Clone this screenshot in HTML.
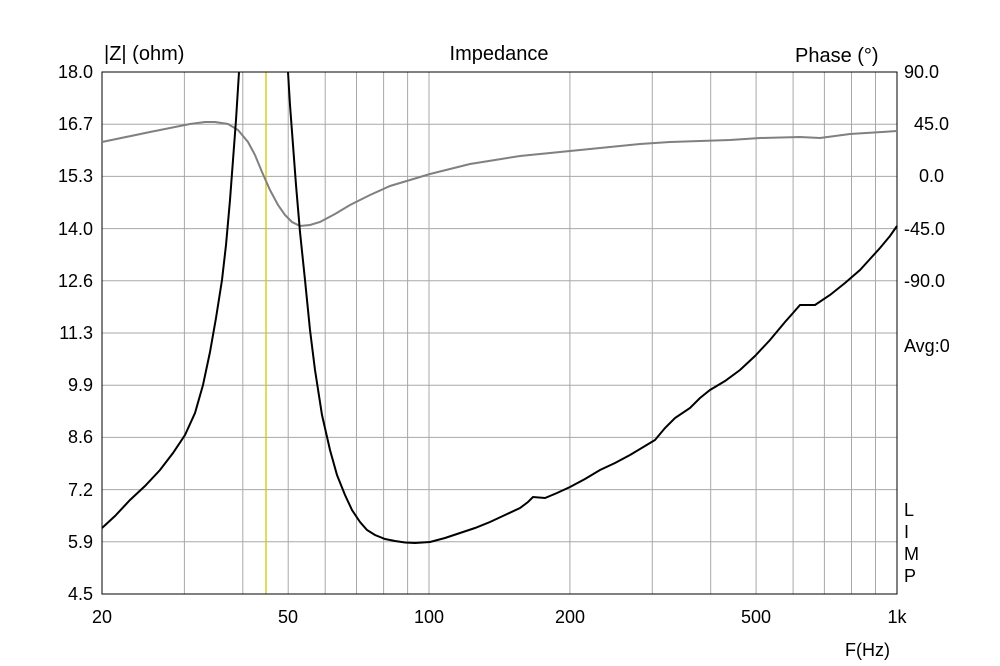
<!DOCTYPE html>
<html><head><meta charset="utf-8"><style>
body{margin:0;background:#fff;}
svg{display:block;font-family:"Liberation Sans",sans-serif;}
</style></head><body>
<svg width="1000" height="666" viewBox="0 0 1000 666" xmlns="http://www.w3.org/2000/svg">
<rect width="1000" height="666" fill="#fff"/>
<g stroke="#a8a8a8" stroke-width="1">
<line x1="102" y1="124.2" x2="897" y2="124.2"/><line x1="102" y1="176.4" x2="897" y2="176.4"/>
<line x1="102" y1="228.6" x2="897" y2="228.6"/><line x1="102" y1="280.8" x2="897" y2="280.8"/>
<line x1="102" y1="333" x2="897" y2="333"/><line x1="102" y1="385.2" x2="897" y2="385.2"/>
<line x1="102" y1="437.4" x2="897" y2="437.4"/><line x1="102" y1="489.6" x2="897" y2="489.6"/>
<line x1="102" y1="541.8" x2="897" y2="541.8"/>
<line x1="184.4" y1="72" x2="184.4" y2="594"/><line x1="242.8" y1="72" x2="242.8" y2="594"/>
<line x1="288.2" y1="72" x2="288.2" y2="594"/><line x1="325.2" y1="72" x2="325.2" y2="594"/>
<line x1="356.5" y1="72" x2="356.5" y2="594"/><line x1="383.6" y1="72" x2="383.6" y2="594"/>
<line x1="407.6" y1="72" x2="407.6" y2="594"/><line x1="429" y1="72" x2="429" y2="594"/>
<line x1="569.9" y1="72" x2="569.9" y2="594"/><line x1="652.3" y1="72" x2="652.3" y2="594"/>
<line x1="710.7" y1="72" x2="710.7" y2="594"/><line x1="756.1" y1="72" x2="756.1" y2="594"/>
<line x1="793.1" y1="72" x2="793.1" y2="594"/><line x1="824.4" y1="72" x2="824.4" y2="594"/>
<line x1="851.5" y1="72" x2="851.5" y2="594"/><line x1="875.5" y1="72" x2="875.5" y2="594"/>
</g>
<line x1="266" y1="72" x2="266" y2="594" stroke="#d4c800" stroke-width="1.3"/>
<rect x="102" y="72" width="795" height="522" fill="none" stroke="#000" stroke-width="1"/>
<polyline fill="none" stroke="#808080" stroke-width="2" points="102,142 150,132 190,124 205,122 215,122 228,124 238,130 248,142 255,155 262,172 270,190 278,205 285,215 292,222 300,226 310,225 320,222 335,214 350,205 370,195 390,186 410,180 430,174 450,169 470,164 495,160 520,156 550,153 580,150 610,147 640,144 670,142 700,141 730,140 760,138 800,137 820,138 850,134 897,131"/>
<polyline fill="none" stroke="#000" stroke-width="2" points="102,528 115,516 130,500 145,486 160,470 173,453 185,435 195,413 203,385 210,352 216,318 222,280 226,245 230,200 233,160 236,120 239,72"/>
<polyline fill="none" stroke="#000" stroke-width="2" points="288,72 290,105 293,145 296,185 300,232 305,280 310,330 315,370 322,415 330,450 337,475 345,495 352,510 360,522 367,530 375,535 385,539 395,541 405,542.5 415,543 430,542 445,538 460,533 475,528 490,522 505,515 520,508 528,502 533,497 545,498 557,493 570,487 585,479 600,470 615,463 630,455 645,446 655,440 665,428 675,418 690,408 700,398 710,390 725,381 740,370 755,356 770,340 785,322 793,313 800,305 815,305 830,295 845,283 860,270 870,259 880,248 890,236 897,226"/>
<g font-size="18" fill="#000">
<g text-anchor="end">
<text x="93" y="78">18.0</text><text x="93" y="130">16.7</text><text x="93" y="182">15.3</text>
<text x="93" y="235">14.0</text><text x="93" y="287">12.6</text><text x="93" y="339">11.3</text>
<text x="93" y="391">9.9</text><text x="93" y="443">8.6</text><text x="93" y="496">7.2</text>
<text x="93" y="548">5.9</text><text x="93" y="600">4.5</text>
</g>
<text x="904" y="78">90.0</text><text x="914" y="130">45.0</text><text x="919" y="182">0.0</text>
<text x="904" y="235">-45.0</text><text x="904" y="287">-90.0</text><text x="904" y="352">Avg:0</text>
<text x="904" y="516">L</text><text x="904" y="538">I</text><text x="904" y="560">M</text><text x="904" y="582">P</text>
<g text-anchor="middle">
<text x="102" y="623">20</text><text x="288" y="623">50</text><text x="429" y="623">100</text>
<text x="570" y="623">200</text><text x="756" y="623">500</text><text x="897" y="623">1k</text>
</g>
<text x="845" y="656">F(Hz)</text>
</g>
<g font-size="20" fill="#000">
<text x="499" y="60" text-anchor="middle">Impedance</text>
<text x="104" y="60">|Z| (ohm)</text>
<text x="795" y="62">Phase (°)</text>
</g>
</svg>
</body></html>
